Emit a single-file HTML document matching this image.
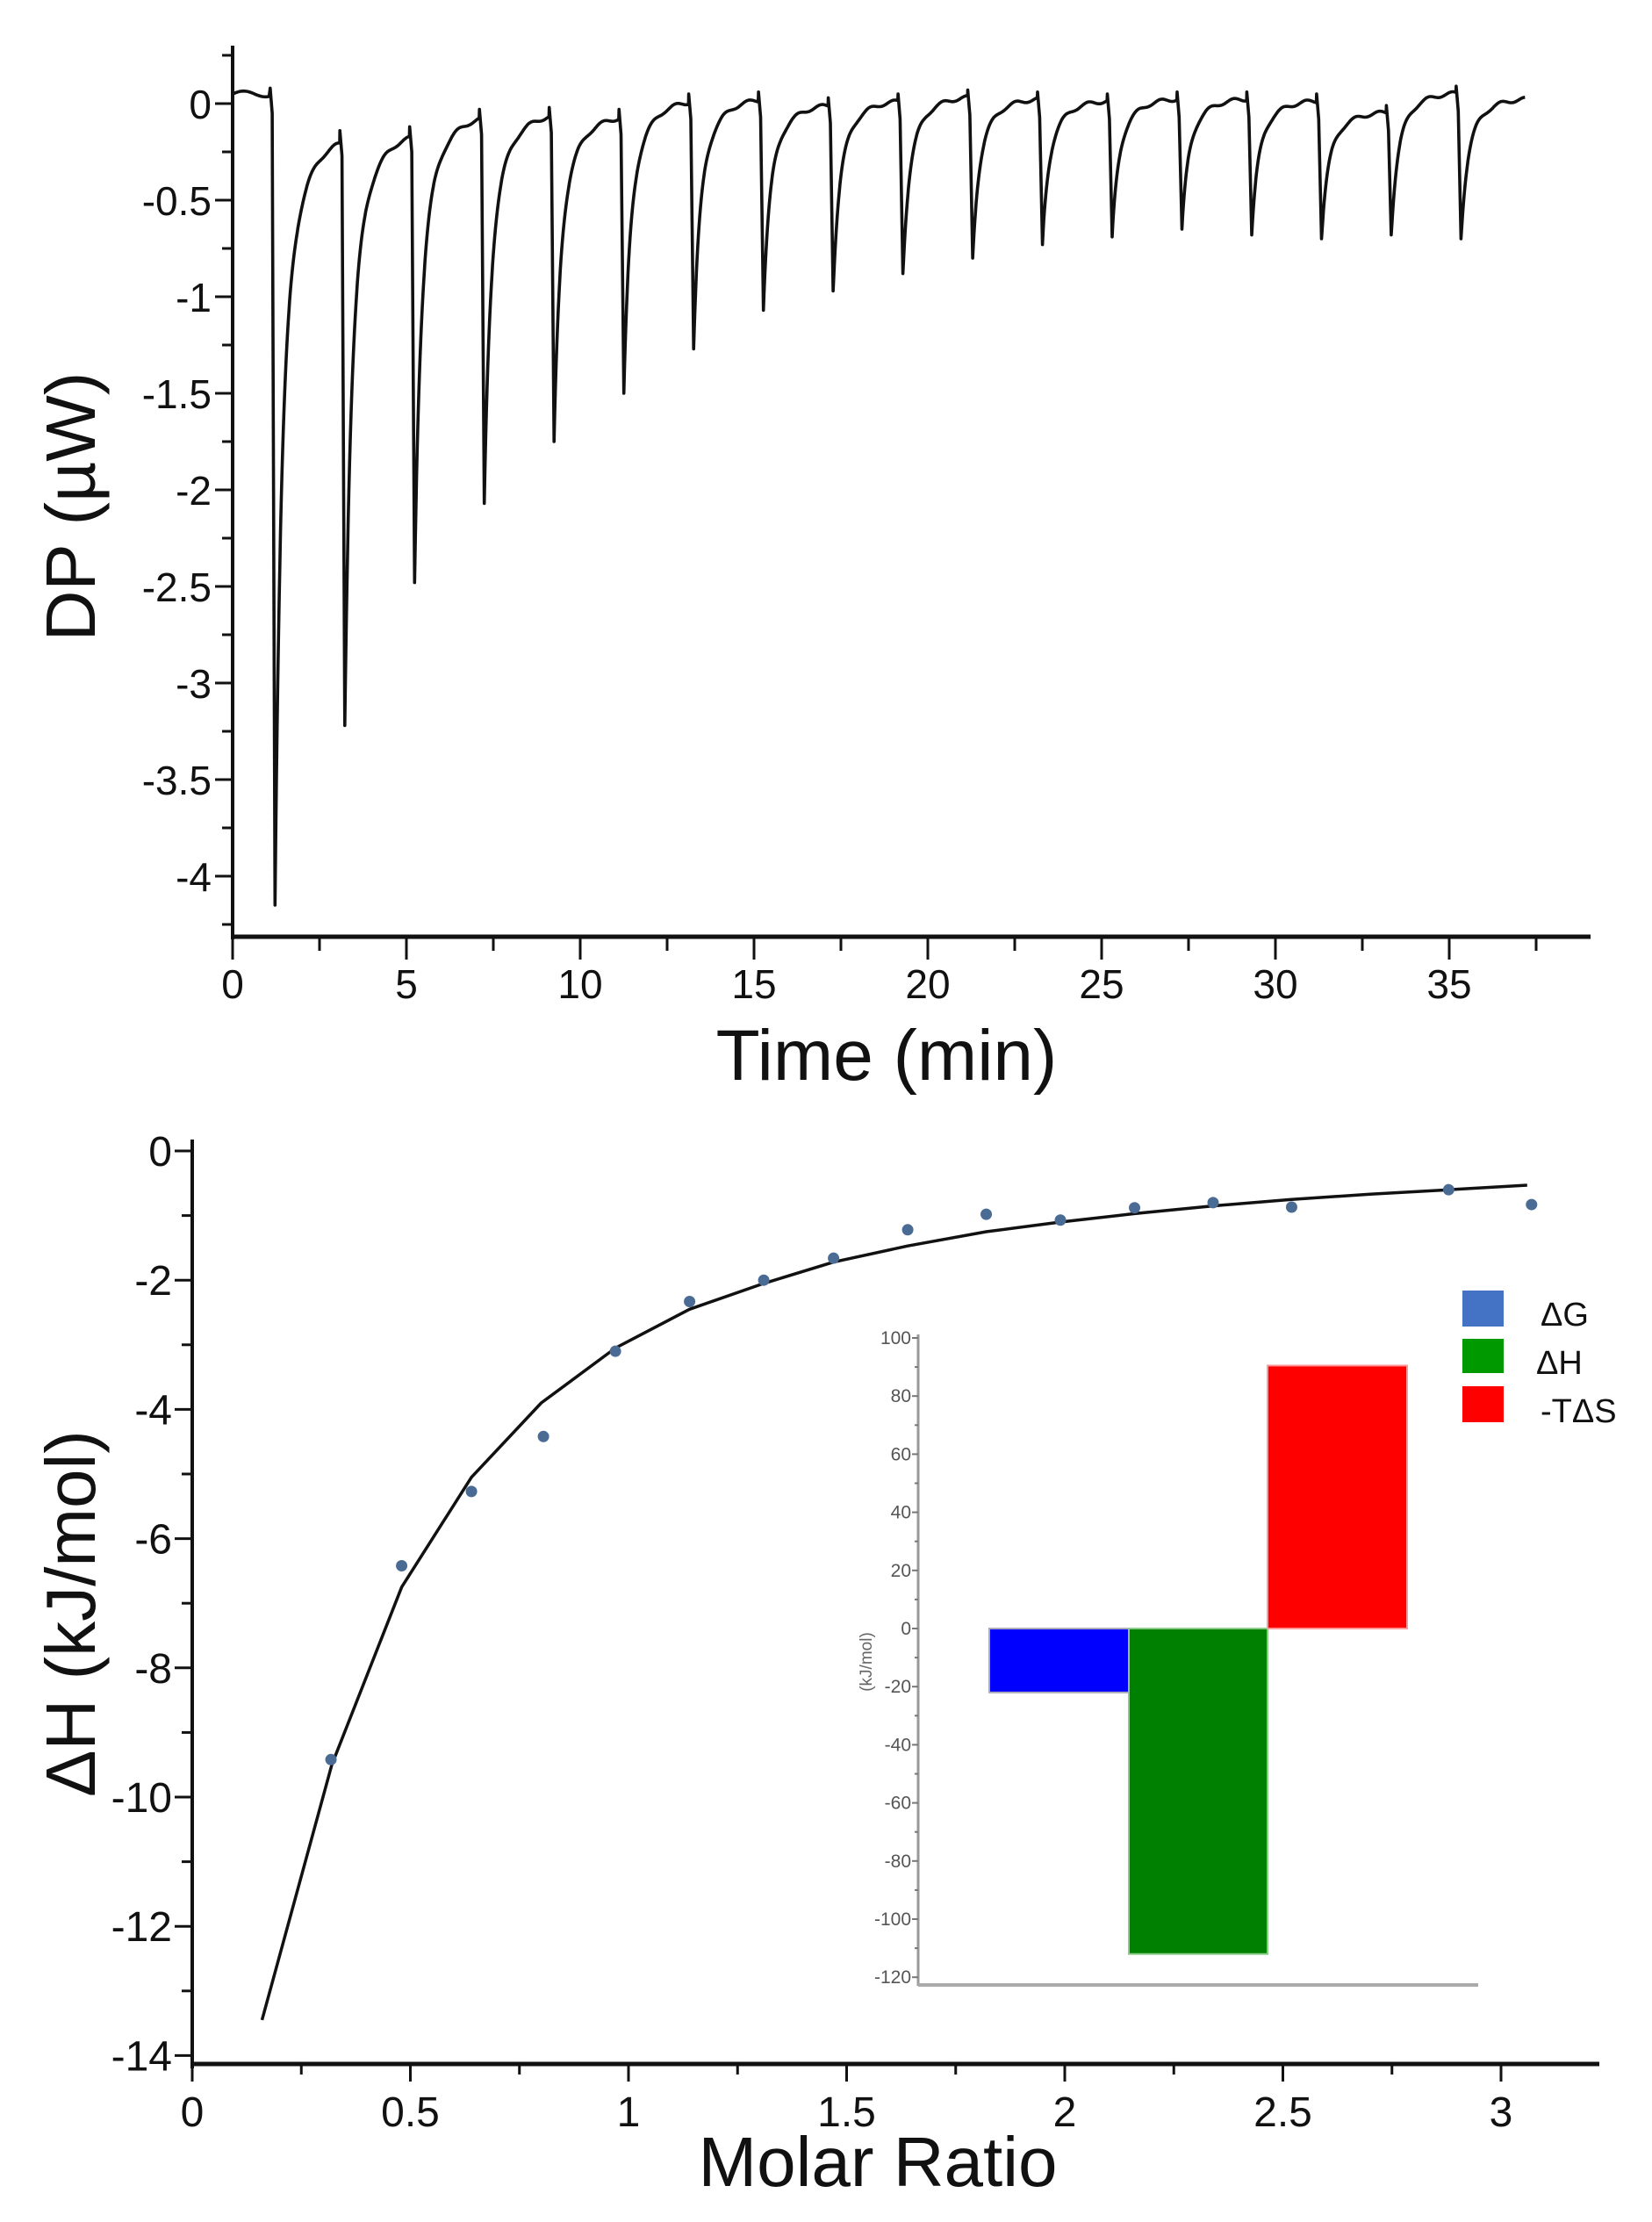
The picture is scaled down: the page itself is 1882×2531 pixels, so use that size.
<!DOCTYPE html>
<html><head><meta charset="utf-8"><style>
html,body{margin:0;padding:0;background:#fff;}
svg{display:block;}
text{font-family:"Liberation Sans",Arial,sans-serif;}
</style></head><body>
<svg id="s" width="1882" height="2531" viewBox="0 0 1882 2531" xmlns="http://www.w3.org/2000/svg">
<rect width="1882" height="2531" fill="#fff"/>
<g id="gtop"></g>
<g id="gbot"></g>
<g id="gins"></g>
<text x="1010" y="1230" font-size="82" text-anchor="middle" fill="#111">Time (min)</text>
<text transform="translate(108,577) rotate(-90)" font-size="80" text-anchor="middle" fill="#111">DP (µW)</text>
<text x="1000" y="2490" font-size="80" text-anchor="middle" fill="#111">Molar Ratio</text>
<text transform="translate(108,1838) rotate(-90)" font-size="80" text-anchor="middle" fill="#111">ΔH (kJ/mol)</text>
<text transform="translate(993,1893) rotate(-90)" font-size="19" text-anchor="middle" fill="#666">(kJ/mol)</text>
<rect x="1666" y="1470" width="47" height="41" fill="#4472c4"/>
<rect x="1666" y="1525" width="47" height="39" fill="#009900"/>
<rect x="1666" y="1579" width="47" height="41" fill="#ff0000"/>
<text x="1755" y="1510" font-size="38" fill="#111">ΔG</text>
<text x="1750" y="1565" font-size="38" fill="#111">ΔH</text>
<text x="1755" y="1620" font-size="38" fill="#111">-TΔS</text>
</svg>
<script>
(function(){
var NS="http://www.w3.org/2000/svg";
function el(p,t,a,txt){var e=document.createElementNS(NS,t);for(var k in a)e.setAttribute(k,a[k]);if(txt!==undefined)e.textContent=txt;p.appendChild(e);return e;}
var gTop=document.getElementById('gtop'),gBot=document.getElementById('gbot'),gIns=document.getElementById('gins');
var X0=265,XS=39.6,Y0=118,YS=220;
function tx(t){return X0+t*XS;} function ty(v){return Y0-v*YS;}
el(gTop,'line',{x1:X0,y1:52,x2:X0,y2:1070,stroke:'#111','stroke-width':4});
el(gTop,'line',{x1:X0-2,y1:1067,x2:1812,y2:1067,stroke:'#111','stroke-width':5});
for(var i=-1;i<=17;i++){var v=-i*0.25,y=ty(v),maj=(i%2==0);
 el(gTop,'line',{x1:X0-(maj?20:12),y1:y,x2:X0,y2:y,stroke:'#111','stroke-width':3});
 if(maj&&i>=0){var lab=(v==0?'0':String(v));el(gTop,'text',{x:241,y:y+17,'font-size':46,'text-anchor':'end',fill:'#111'},lab);}}
for(var t=0;t<=37.5;t+=2.5){var x=tx(t),maj=(Math.round(t*2)%10==0);
 el(gTop,'line',{x1:x,y1:1067,x2:x,y2:1067+(maj?26:16),stroke:'#111','stroke-width':3});
 if(maj)el(gTop,'text',{x:x,y:1137,'font-size':46,'text-anchor':'middle',fill:'#111'},String(t));}
var depths=[-4.15,-3.22,-2.48,-2.07,-1.75,-1.5,-1.27,-1.07,-0.97,-0.88,-0.8,-0.73,-0.69,-0.65,-0.68,-0.7,-0.68,-0.7];
var bases=[-0.17,-0.15,-0.06,-0.05,-0.06,0.02,0.03,0.0,0.02,0.04,0.03,0.02,0.03,0.03,0.02,-0.04,0.06,0.03];
var pts=[];var b0=0.05;
for(var t=0;t<1.08;t+=0.05)pts.push([t,b0+0.015*Math.sin(t*5)]);
var prev=b0;
for(var k=0;k<18;k++){var ti=1.08+2.007*k,d=depths[k],bn=bases[k];
 pts.push([ti,prev+0.03]);pts.push([ti+0.06,prev-0.1]);pts.push([ti+0.14,d]);
 var end=(k<17)?ti+2.007:37.2;
 for(var t=ti+0.16;t<end-0.001;t+=0.02){var dt=t-ti-0.14;var v=bn+(d-bn)*(0.6*Math.exp(-dt/0.16)+0.4*Math.exp(-dt/0.5));v+=0.01*Math.sin(t*9);pts.push([t,v]);}
 prev=bn;}
var dstr='';pts.forEach(function(p,i){dstr+=(i?'L':'M')+tx(p[0]).toFixed(1)+','+ty(p[1]).toFixed(1);});
el(gTop,'path',{d:dstr,fill:'none',stroke:'#111','stroke-width':3.6,'stroke-linejoin':'round'});
var BX0=219,BXS=497,BY0=1311,BYS=73.6;
function bx(r){return BX0+r*BXS;} function by(v){return BY0-v*BYS;}
el(gBot,'line',{x1:BX0,y1:1298,x2:BX0,y2:2356,stroke:'#111','stroke-width':4});
el(gBot,'line',{x1:BX0-2,y1:2351,x2:1822,y2:2351,stroke:'#111','stroke-width':5});
for(var i=0;i<=14;i++){var v=-i,y=by(v),maj=(i%2==0);
 el(gBot,'line',{x1:BX0-(maj?20:12),y1:y,x2:BX0,y2:y,stroke:'#111','stroke-width':3});
 if(maj)el(gBot,'text',{x:196,y:y+17,'font-size':48,'text-anchor':'end',fill:'#111'},String(v));}
for(var r=0;r<=3.01;r+=0.25){var x=bx(r),maj=(Math.round(r*4)%2==0);
 el(gBot,'line',{x1:x,y1:2351,x2:x,y2:2351+(maj?20:12),stroke:'#111','stroke-width':3});
 if(maj)el(gBot,'text',{x:x,y:2422,'font-size':48,'text-anchor':'middle',fill:'#111'},String(r));}
var curve=[[0.16,-13.45],[0.32,-9.5],[0.48,-6.75],[0.64,-5.05],[0.8,-3.9],[0.97,-3.05],[1.14,-2.45],[1.31,-2.05],[1.47,-1.72],[1.64,-1.47],[1.82,-1.25],[1.99,-1.1],[2.16,-0.97],[2.34,-0.85],[2.52,-0.75],[2.7,-0.67],[2.88,-0.6],[3.06,-0.53]];
var cd='';curve.forEach(function(p,i){cd+=(i?'L':'M')+bx(p[0]).toFixed(1)+','+by(p[1]).toFixed(1);});
el(gBot,'path',{d:cd,fill:'none',stroke:'#111','stroke-width':3.5,'stroke-linejoin':'round'});
var dots=[[0.318,-9.42],[0.48,-6.42],[0.64,-5.27],[0.805,-4.42],[0.97,-3.1],[1.14,-2.33],[1.31,-2.0],[1.47,-1.66],[1.64,-1.22],[1.82,-0.98],[1.99,-1.07],[2.16,-0.88],[2.34,-0.8],[2.52,-0.87],[2.88,-0.6],[3.07,-0.83]];
dots.forEach(function(p){el(gBot,'circle',{cx:bx(p[0]),cy:by(p[1]),r:6.5,fill:'#4a6b94'});});
var IX=1046,IZ=1855,IS=3.31;
function iy(v){return IZ-v*IS;}
el(gIns,'rect',{x:1127,y:iy(0),width:159,height:iy(-22)-iy(0),fill:'#0000ff',stroke:'#aab',"stroke-width":2});
el(gIns,'rect',{x:1286,y:iy(0),width:158,height:iy(-112)-iy(0),fill:'#008000',stroke:'#8c8',"stroke-width":2});
el(gIns,'rect',{x:1444,y:iy(90.5),width:159,height:iy(0)-iy(90.5),fill:'#ff0000',stroke:'#f99',"stroke-width":2});
el(gIns,'line',{x1:IX,y1:1520,x2:IX,y2:2262,stroke:'#999','stroke-width':3});
el(gIns,'line',{x1:IX,y1:2261,x2:1684,y2:2261,stroke:'#aaa','stroke-width':4});
for(var v=100;v>=-120;v-=10){var y=iy(v),maj=(v%20==0);
 el(gIns,'line',{x1:IX-(maj?7:4),y1:y,x2:IX,y2:y,stroke:'#777','stroke-width':2});
 if(maj)el(gIns,'text',{x:IX-8,y:y+7,'font-size':21,'text-anchor':'end',fill:'#555'},String(v));}
})();
</script>
</body></html>
